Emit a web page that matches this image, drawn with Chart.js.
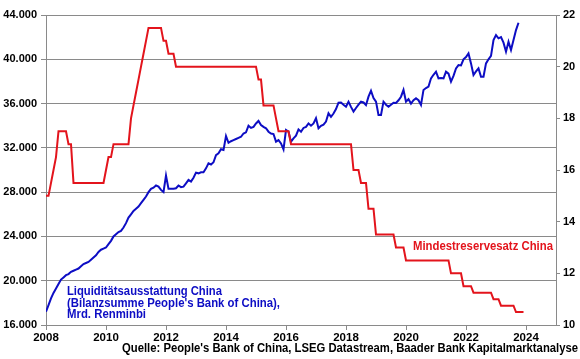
<!DOCTYPE html>
<html>
<head>
<meta charset="utf-8">
<script src="https://cdn.jsdelivr.net/npm/chart.js@4/dist/chart.umd.min.js"></script>
<style>
  html, body { margin: 0; padding: 0; background: #fff; }
  canvas { display: block; }
</style>
</head>
<body>
<canvas id="chart" width="580" height="359"></canvas>
<script>
// Bilanzsumme PBoC, Mrd. Renminbi, monatlich ab Jan 2008
const startYear = 2008;
const bilanzsumme = [
  17200, 17800, 18400, 18900, 19300, 19700, 20100, 20300, 20500, 20600, 20800, 20900, // 2008
  21000, 21100, 21300, 21500, 21600, 21700, 21900, 22100, 22300, 22600, 22800, 22900, // 2009
  23000, 23300, 23600, 24000, 24200, 24400, 24500, 24800, 25200, 25700, 26000, 26300, // 2010
  26500, 26700, 27000, 27300, 27600, 28000, 28300, 28400, 28600, 28500, 28200, 28000, // 2011
  29500, 28300, 28300, 28300, 28350, 28600, 28450, 28500, 28800, 29100, 28950, 29300, // 2012
  29760, 29700, 29800, 29800, 30150, 30600, 30500, 30700, 31350, 31500, 31870, 31800, // 2013
  33070, 32460, 32600, 32700, 32800, 32900, 33000, 33300, 33400, 34000, 33800, 33900, // 2014
  34200, 34430, 34070, 33900, 33770, 33460, 33300, 33250, 32560, 32700, 32400, 31860, // 2015
  33610, 33460, 32560, 32860, 33100, 33670, 33460, 33800, 33900, 34210, 34000, 34200, // 2016
  34670, 33770, 34000, 34100, 34370, 35120, 34800, 35100, 35500, 36080, 36100, 35900, // 2017
  35720, 36170, 35700, 35270, 35600, 35900, 36170, 36100, 35870, 36620, 37160, 36500, // 2018
  36170, 34970, 34970, 36170, 35900, 35720, 35900, 36080, 36050, 36300, 36620, 37230, // 2019
  36170, 36400, 36000, 36300, 36470, 36300, 35870, 37230, 37400, 37530, 38280, 38600, // 2020
  38880, 38280, 38300, 38280, 38880, 38700, 37980, 38500, 39180, 39480, 39450, 40000, // 2021
  40200, 40530, 39630, 38580, 38900, 39180, 38430, 38430, 39630, 40000, 40300, 41740, // 2022
  42190, 41890, 42000, 41500, 40690, 41590, 40840, 41740, 42640, 43300              // 2023
];

// Mindestreservesatz in %, monatlich ab Jan 2008
const mindestreserve = [
  15, 15, 15.5, 16, 16.5, 17.5, 17.5, 17.5, 17.5, 17, 17, 15.5,              // 2008
  15.5, 15.5, 15.5, 15.5, 15.5, 15.5, 15.5, 15.5, 15.5, 15.5, 15.5, 15.5,    // 2009
  16, 16.5, 16.5, 17, 17, 17, 17, 17, 17, 17, 18, 18.5,                      // 2010
  19, 19.5, 20, 20.5, 21, 21.5, 21.5, 21.5, 21.5, 21.5, 21.5, 21,            // 2011
  21, 20.5, 20.5, 20.5, 20, 20, 20, 20, 20, 20, 20, 20,                      // 2012
  20, 20, 20, 20, 20, 20, 20, 20, 20, 20, 20, 20,                            // 2013
  20, 20, 20, 20, 20, 20, 20, 20, 20, 20, 20, 20,                            // 2014
  20, 19.5, 19.5, 18.5, 18.5, 18.5, 18.5, 18.5, 18, 17.5, 17.5, 17.5,        // 2015
  17.5, 17.5, 17, 17, 17, 17, 17, 17, 17, 17, 17, 17,                        // 2016
  17, 17, 17, 17, 17, 17, 17, 17, 17, 17, 17, 17,                            // 2017
  17, 17, 17, 16, 16, 16, 15.5, 15.5, 15.5, 14.5, 14.5, 14.5,                // 2018
  13.5, 13.5, 13.5, 13.5, 13.5, 13.5, 13.5, 13.5, 13, 13, 13, 13,            // 2019
  12.5, 12.5, 12.5, 12.5, 12.5, 12.5, 12.5, 12.5, 12.5, 12.5, 12.5, 12.5,    // 2020
  12.5, 12.5, 12.5, 12.5, 12.5, 12.5, 12, 12, 12, 12, 12, 11.5,              // 2021
  11.5, 11.5, 11.5, 11.25, 11.25, 11.25, 11.25, 11.25, 11.25, 11.25, 11.25, 11, // 2022
  11, 11, 10.75, 10.75, 10.75, 10.75, 10.75, 10.75, 10.5, 10.5, 10.5, 10.5   // 2023
];

const xTicks = [2008, 2010, 2012, 2014, 2016, 2018, 2020, 2022, 2024];
const leftTicks = [16000, 20000, 24000, 28000, 32000, 36000, 40000, 44000];
const rightTicks = [10, 12, 14, 16, 18, 20, 22];

const blueLabel = ['Liquiditätsausstattung China', "(Bilanzsumme People's Bank of China),", 'Mrd. Renminbi'];
const redLabel = 'Mindestreservesatz China';
const sourceText = "Quelle: People's Bank of China, LSEG Datastream, Baader Bank Kapitalmarktanalyse";

const BLUE = '#0d0dc4';
const RED = '#e3141c';
const GRID = '#8a8a8a';
const FONT = '"Liberation Sans", Arial, sans-serif';

function toPoints(values) {
  return values.map((v, i) => ({ x: startYear + i / 12, y: v }));
}

// Beschriftungen im Diagramm und Quellenangabe
const textPlugin = {
  id: 'texts',
  afterDraw(chart) {
    const ctx = chart.ctx;
    ctx.save();
    ctx.font = 'bold 12px ' + FONT;
    ctx.textBaseline = 'middle';
    ctx.textAlign = 'left';
    ctx.fillStyle = BLUE;
    const blueWidths = [155, 213, 79];
    blueLabel.forEach((t, i) => ctx.fillText(t, 67, 291.5 + i * 11.7, blueWidths[i]));
    ctx.fillStyle = RED;
    ctx.fillText(redLabel, 413, 247, 140);
    ctx.fillStyle = '#000';
    ctx.textAlign = 'right';
    ctx.fillText(sourceText, 578, 349, 456);
    ctx.restore();
  }
};

const ctx = document.getElementById('chart').getContext('2d');
new Chart(ctx, {
  type: 'line',
  data: {
    datasets: [
      {
        label: 'Mindestreservesatz',
        data: toPoints(mindestreserve),
        yAxisID: 'y1',
        borderColor: RED,
        borderWidth: 2,
        pointRadius: 0,
        tension: 0
      },
      {
        label: 'Bilanzsumme',
        data: toPoints(bilanzsumme),
        yAxisID: 'y',
        borderColor: BLUE,
        borderWidth: 2,
        pointRadius: 0,
        tension: 0
      }
    ]
  },
  options: {
    responsive: false,
    animation: false,
    layout: { padding: { top: 15, bottom: 16, left: 0, right: 0 } },
    plugins: {
      legend: { display: false },
      tooltip: { enabled: false }
    },
    scales: {
      x: {
        type: 'linear',
        min: 2008,
        max: 2025,
        afterBuildTicks: s => { s.ticks = xTicks.map(v => ({ value: v })); },
        afterFit: s => { s.height = 18; },
        grid: { drawOnChartArea: false, tickLength: 5, color: GRID },
        border: { color: GRID },
        ticks: {
          padding: 1,
          color: '#000',
          font: { family: FONT, size: 11.5, weight: 'bold' },
          maxRotation: 0,
          callback: v => String(v)
        }
      },
      y: {
        position: 'left',
        min: 16000,
        max: 44000,
        afterBuildTicks: s => { s.ticks = leftTicks.map(v => ({ value: v })); },
        afterFit: s => { s.width = 46; },
        grid: { color: GRID, tickLength: 5 },
        border: { color: GRID },
        ticks: {
          padding: 4,
          color: '#000',
          font: { family: FONT, size: 11, weight: 'bold' },
          callback: v => (v / 1000).toFixed(3)
        }
      },
      y1: {
        position: 'right',
        min: 10,
        max: 22,
        afterBuildTicks: s => { s.ticks = rightTicks.map(v => ({ value: v })); },
        afterFit: s => { s.width = 24; },
        grid: { drawOnChartArea: false, color: GRID, tickLength: 4 },
        border: { color: GRID },
        ticks: {
          padding: 3,
          color: '#000',
          font: { family: FONT, size: 11, weight: 'bold' },
          callback: v => String(v)
        }
      }
    }
  },
  plugins: [textPlugin]
});
</script>
</body>
</html>
